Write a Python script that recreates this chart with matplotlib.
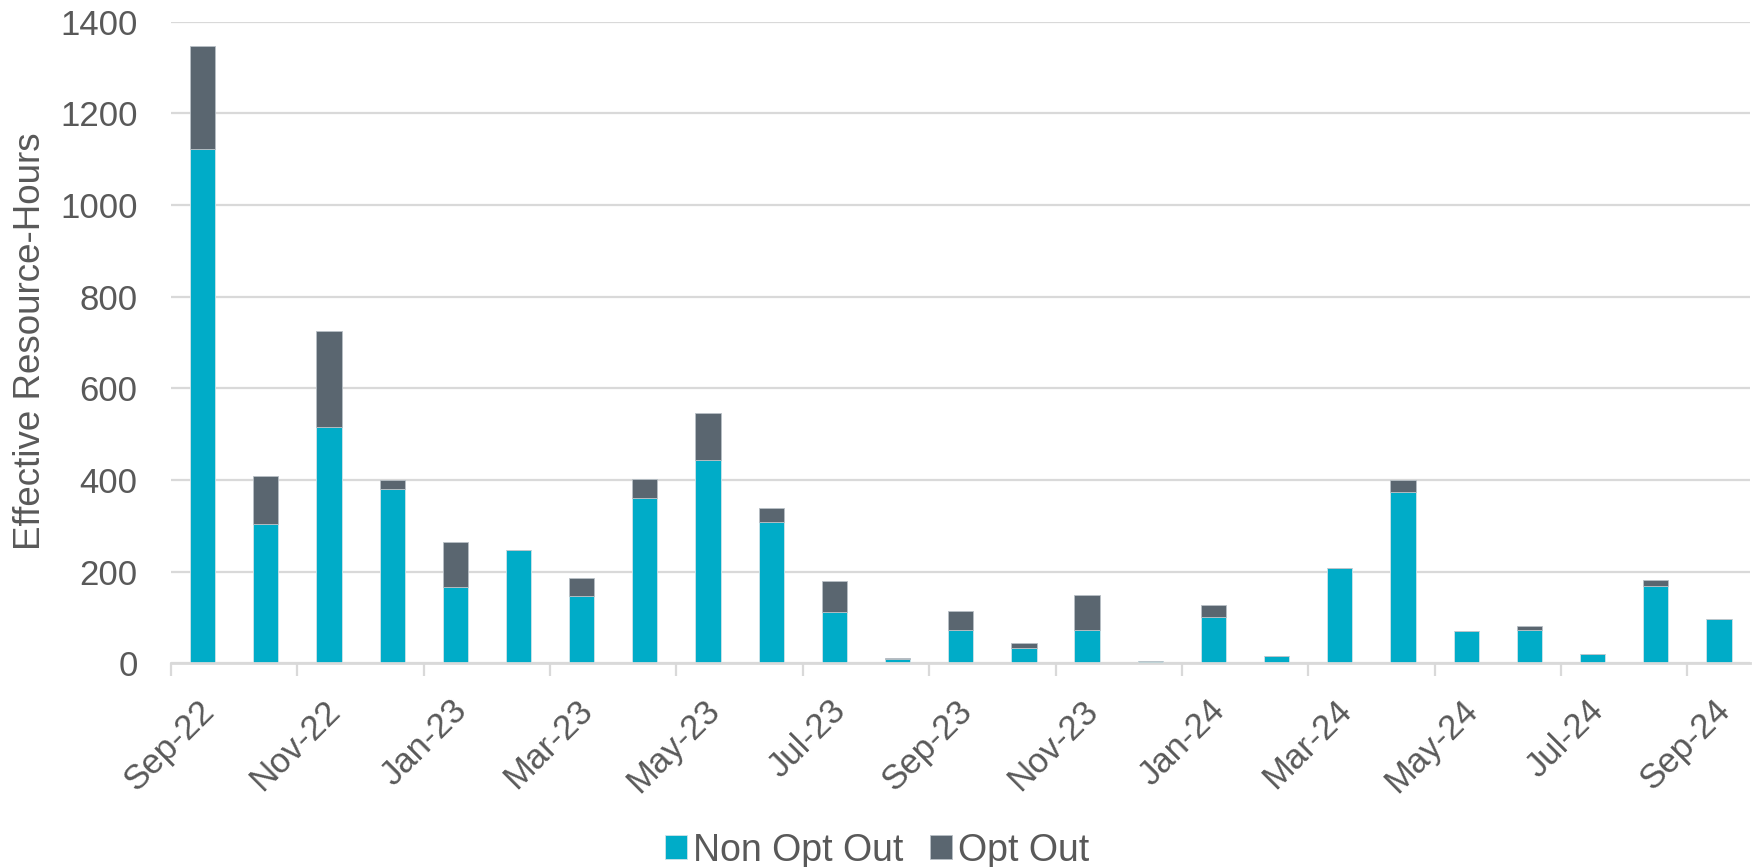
import matplotlib
matplotlib.use("Agg")
import matplotlib.pyplot as plt
import matplotlib.transforms as mtransforms
import numpy as np

# monthly values
months = ["Sep-22", "Oct-22", "Nov-22", "Dec-22", "Jan-23", "Feb-23", "Mar-23",
          "Apr-23", "May-23", "Jun-23", "Jul-23", "Aug-23", "Sep-23", "Oct-23",
          "Nov-23", "Dec-23", "Jan-24", "Feb-24", "Mar-24", "Apr-24", "May-24",
          "Jun-24", "Jul-24", "Aug-24", "Sep-24"]
non_opt_out = [1122, 304, 516, 380, 167, 248, 147, 360, 444, 308, 112, 10, 72,
               33, 72, 5, 100, 16, 208, 374, 71, 72, 20, 169, 97]
opt_out = [226, 105, 209, 19, 97, 0, 38, 42, 102, 31, 67, 2, 42,
           11, 77, 0, 28, 0, 0, 26, 0, 10, 0, 12, 0]

teal = "#00ACC8"
slate = "#5A6670"
text_col = "#595959"
grid_col = "#D9D9D9"

plt.rcParams['font.family'] = ['Liberation Sans', 'DejaVu Sans']

fig = plt.figure(figsize=(17.54, 8.67), dpi=100)
ax = fig.add_axes([0.0975, 0.235, 0.9005, 0.74])

x = np.arange(len(months))
ax.bar(x, non_opt_out, width=0.4, color=teal, edgecolor="#cfe3e8",
       linewidth=0.6, label="Non Opt Out", zorder=3)
ax.bar(x, opt_out, width=0.4, bottom=non_opt_out, color=slate,
       edgecolor="#b8c0c6", linewidth=0.6, label="Opt Out", zorder=3)

ax.set_xlim(-0.5, len(months) - 0.5)
ax.set_ylim(0, 1400)
ax.set_yticks(range(0, 1401, 200))
ax.yaxis.grid(True, color=grid_col, linewidth=1.6, zorder=0)
ax.tick_params(axis='y', length=0, pad=24, labelsize=25, labelcolor=text_col)

# tick marks sit between categories, labels on every second month
ax.set_xticks(np.arange(-0.5, len(months) - 0.5, 2))
ax.set_xticklabels([])
ax.tick_params(axis='x', length=9, width=1.6, color=grid_col)
ax.set_xticks(x[::2], minor=True)
ax.set_xticklabels(months[::2], minor=True, rotation=45, ha='right',
                   va='top', rotation_mode='anchor', fontsize=25,
                   color=text_col)
ax.tick_params(axis='x', which='minor', length=0, pad=22)
shift = mtransforms.ScaledTranslation(-4 / 72, 0, fig.dpi_scale_trans)
for lab in ax.get_xticklabels(minor=True):
    lab.set_transform(lab.get_transform() + shift)

for s in ["top", "right", "left"]:
    ax.spines[s].set_visible(False)
ax.spines["bottom"].set_color(grid_col)
ax.spines["bottom"].set_linewidth(2)
ax.spines["bottom"].set_zorder(4)

ax.set_ylabel("Effective Resource-Hours", fontsize=26.5, color=text_col)
ax.yaxis.set_label_coords(-0.078, 0.502)

fig.legend(loc='center', bbox_to_anchor=(0.5, 0.019), ncol=2, frameon=False,
           fontsize=27, labelcolor=text_col, handlelength=0.6,
           handleheight=0.6, handletextpad=0.15, columnspacing=0.7)

fig.savefig("out.png", dpi=100)
